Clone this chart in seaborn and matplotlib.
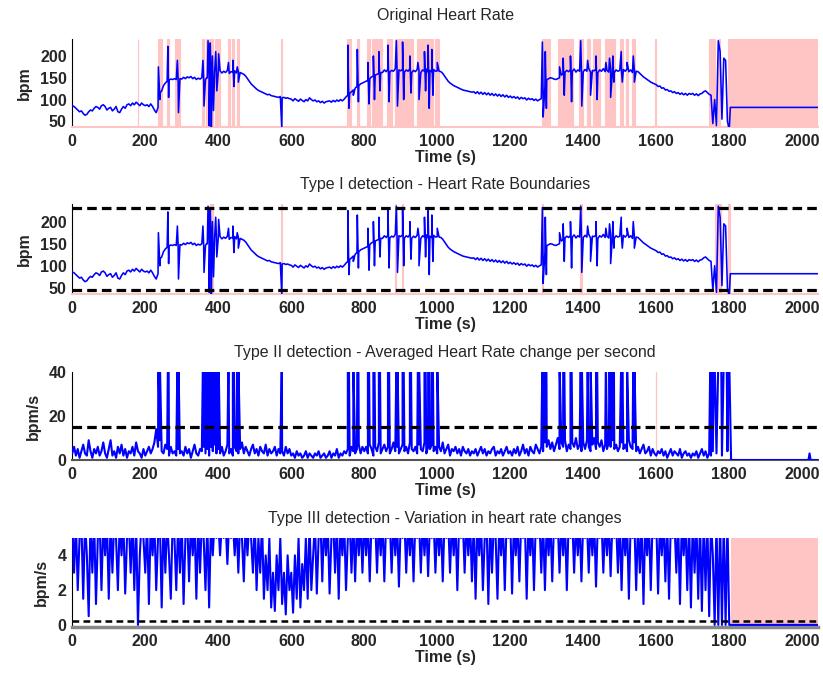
import numpy as np
import pandas as pd
import matplotlib
matplotlib.use("Agg")
import matplotlib.pyplot as plt
import seaborn as sns

sns.set_style("white")
plt.rcParams['font.family'] = ['Liberation Sans', 'DejaVu Sans']

# ---------------- data ----------------
STEP = 5  # seconds between samples
XMAX = 2044

# heart rate (bpm) sampled every 5 s from t=0 to t=1800
hr_base = [
    86,84,80,76,72,74,68,64,66,72,76,74,80,84,82,78,86,88,84,76,
    80,82,74,78,84,72,70,78,84,80,88,90,86,92,88,94,90,86,92,88,
    86,88,84,90,84,76,70,82,100,120,132,138,142,145,147,146,148,146,147,148,
    147,151,148,152,150,153,148,151,146,149,147,150,148,146,150,154,158,162,163,162,
    163,166,161,165,162,167,160,164,163,166,161,164,162,160,158,154,148,142,136,132,
    128,124,121,119,117,115,113,111,112,109,108,107,106,105,107,104,105,103,104,102,
    101,97,102,99,96,101,98,95,100,97,104,100,97,99,95,97,93,96,92,95,
    96,97,94,98,95,99,96,100,97,101,106,110,114,118,122,126,130,132,136,138,
    140,142,144,148,152,154,156,158,160,162,162,168,164,170,163,167,165,171,162,168,
    166,170,163,168,165,171,162,167,164,169,166,162,168,165,170,163,167,164,169,165,
    166,165,164,160,154,148,142,138,135,132,130,128,126,124,122,121,120,119,118,117,
    118,114,118,113,117,112,116,111,115,110,114,109,113,108,112,107,111,106,110,105,
    108,104,107,103,106,101,105,102,104,99,103,100,102,98,101,97,100,102,106,130,
    145,148,150,149,147,146,148,150,156,160,163,167,164,169,165,170,163,168,165,167,
    164,169,165,171,163,167,166,170,162,168,165,171,164,167,163,169,166,162,168,165,
    167,163,169,165,170,164,168,162,167,165,164,160,156,152,149,146,143,140,138,136,
    134,130,131,126,127,122,123,119,120,116,118,114,116,112,115,111,114,110,114,112,
    114,110,113,109,113,114,118,120,116,112,110,45,100,40,235,210,55,195,190,50,
    30,
]
# artefact spikes in the heart rate (time s, bpm)
hr_spike_t = [236,240,262,264,288,291,358,361,368,372,375,378,381,384,387,393,396,401,
              428,440,443,452,455,574,
              755,758,770,781,784,810,813,825,828,840,843,865,868,888,891,905,908,
              925,928,947,950,965,968,975,978,985,988,1000,
              1288,1290,1296,1299,1335,1345,1348,1365,1368,1393,1396,1412,1420,1435,
              1438,1462,1472,1475,1481,1484,1504,1507,1520,1537,1540]
hr_spike_v = [175,115,222,105,190,70,190,85,150,235,40,230,35,200,75,210,120,205,
              185,190,130,175,140,35,
              225,80,110,215,95,185,90,200,100,210,120,225,95,235,85,232,100,
              200,115,185,100,210,120,225,80,215,110,185,
              232,60,210,80,175,195,110,200,95,235,85,190,110,200,
              100,185,195,105,200,140,210,140,185,200,140]
# flat signal after sensor loss
hr_tail_t = [1803, XMAX]
hr_tail_v = [82, 82]

# detected artefact intervals (s)
orig_spans = [(179,181),(234,247),(259,266),(281,295),(356,362),(366,386),(391,405),
              (426,432),(438,444),(450,458),(573,576),(754,763),(779,786),(807,816),
              (820,834),(838,848),(861,875),(884,898),(902,916),(921,934),(944,957),
              (962,989),(994,1005),(1286,1309),(1331,1373),(1389,1400),(1409,1418),
              (1427,1446),(1459,1486),(1501,1508),(1517,1523),(1533,1542),(1597,1599),
              (1745,1761),(1770,1776),(1797,XMAX)]
type1_spans = [(378,386),(573,576),(885,888),(903,906),(1287,1290),(1392,1397),
               (1762,1778),(1797,1802)]
hr_bounds = [45, 230]

# averaged heart-rate change per second (bpm/s), every 5 s
dhr_base = [
    3,6,2,5,1,4,7,3,2,9,4,1,5,3,6,2,4,8,3,1,
    5,9,2,4,1,6,3,7,2,5,1,4,3,6,2,8,4,3,1,5,
    2,4,6,3,5,8,14,6,9,4,3,7,5,2,6,3,4,2,5,3,
    4,2,6,3,5,1,4,7,3,2,5,4,6,3,5,2,6,4,7,3,
    5,3,6,2,4,7,3,5,2,6,4,3,5,8,3,6,4,2,5,7,
    3,5,2,6,4,3,7,2,5,3,4,6,2,5,3,4,2,6,3,5,
    2,3,1,4,2,3,1,2,4,1,3,2,1,3,2,4,1,2,3,1,
    2,4,1,3,2,5,1,3,2,4,3,5,2,6,4,3,5,7,3,6,
    4,6,3,7,5,2,6,4,8,3,5,7,4,6,3,5,8,4,6,3,
    5,7,4,6,3,8,5,4,6,3,7,5,4,8,3,6,5,7,4,6,
    3,6,4,8,3,5,7,2,5,4,6,3,5,2,6,4,3,5,2,4,
    3,5,2,4,6,3,5,2,4,3,5,6,2,4,3,5,2,4,6,3,
    4,2,5,3,6,2,4,7,3,5,2,6,4,3,7,5,3,6,4,8,
    6,9,5,8,4,7,10,5,8,6,9,4,7,5,8,6,10,5,7,4,
    8,5,9,6,4,7,10,5,8,6,9,4,7,5,8,6,9,5,7,4,
    6,8,5,7,4,9,6,5,8,4,6,3,5,7,3,4,6,2,5,3,
    2,4,3,5,2,4,1,3,5,2,4,3,2,5,1,3,4,2,3,1,
    3,2,4,1,3,5,2,4,1,3,2,4,45,3,45,45,2,45,45,4,
    45,
]
dhr_spike_t = hr_spike_t + [1748, 1752, 1758, 1772, 1778, 1787, 1793, 1798]
DHR_SPIKE = 45  # clipped above the axis
dhr_tail_t = [1805, 2017, 2020, 2023, XMAX]
dhr_tail_v = [0, 0, 3, 0, 0]
dhr_threshold = 15

# variation in heart-rate changes (bpm/s), every 5 s (values above 5 are clipped)
var_base = [
    6,3,6,2,5,6,1.5,6,4,0.5,6,3,6,1.2,5,6,2,6,4,6,
    1.5,6,3,6,5,2,6,4,6,1.8,5,6,3,6,2,6,0,4,6,5,
    3,6,1.2,6,4,6,2,5,6,1,6,3,6,4,1.5,6,5,2,6,3,
    6,1.2,5,6,2.5,6,4,6,1.5,6,3,6,5,2,6,1,6,4,6,5,
    6,4,6,5,6,3.5,6,5,6,4,6,3,6,5,2.5,6,4,6,5,3,
    6,2,5,3,6,1.5,4,2,5,1,3,0.8,4,2,5,1.2,3,0.6,4,2,
    3,0.7,4,1.5,5,1,3.5,2,5,1.5,6,2,4,6,1.8,5,6,2.5,6,4,
    6,1.8,5,6,3,6,1.5,6,4,6,2,5,6,3,6,2.5,6,4,6,3,
    6,4,6,2.5,6,5,6,3,6,4,6,2.5,6,5,6,3,6,4,6,2.2,
    6,5,6,3,6,4,6,2.5,6,5,6,3,6,4,6,2.8,6,5,6,3,
    6,4,6,2.5,6,5,6,3,6,4,6,2,6,5,6,3,6,4,6,2.5,
    6,1.5,6,4,6,2,5,6,1.2,6,3,6,5,1.5,6,4,6,2,6,5,
    6,1.8,6,4,6,2.5,6,5,6,1.5,6,4,6,2,6,5,6,3,6,2,
    6,4,6,2.5,6,5,6,3,6,4,6,2,6,5,6,3,6,4,6,2.5,
    6,5,6,3,6,4,6,2.2,6,5,6,3,6,4,6,2.8,6,5,6,3,
    6,2,6,4,6,1.5,6,5,6,2,6,3,6,1.2,6,4,6,2,6,5,
    6,1.8,6,4,6,2.5,6,1.5,6,5,6,3,6,1.2,6,4,6,2,6,1,
    6,3,6,1.5,6,0.8,6,2,6,0.5,6,4,0,6,0,6,0,6,0,6,
    0,
]
var_tail_t = [1805, XMAX]
var_tail_v = [0, 0]
var_threshold = 0.2
type3_spans = [(1805, XMAX)]

xticks = list(range(0, 2001, 200))

# ---------------- build series ----------------
def series(base, extra_t, extra_v, tail_t, tail_v):
    t = np.concatenate([np.arange(len(base)) * STEP, extra_t, tail_t]).astype(float)
    v = np.concatenate([base, extra_v, tail_v]).astype(float)
    o = np.argsort(t, kind="stable")
    return pd.DataFrame({"t": t[o], "v": v[o]})

hr_df = series(hr_base, hr_spike_t, hr_spike_v, hr_tail_t, hr_tail_v)
dhr_df = series(dhr_base, dhr_spike_t, [DHR_SPIKE] * len(dhr_spike_t), dhr_tail_t, dhr_tail_v)
var_df = series(var_base, [], [], var_tail_t, var_tail_v)

# ---------------- figure ----------------
fig = plt.figure(figsize=(8.23, 6.77), dpi=100)
L, W = 0.0878, 0.9065
boxes = [(0.8124, 0.130), (0.5657, 0.133), (0.3205, 0.130), (0.0739, 0.1315)]
axes = [fig.add_axes([L, b, W, h]) for b, h in boxes]

PINK = "#ffc4c4"
BLUE = "#0000ff"
tick_font = dict(fontsize=11.5, fontweight="bold")

def style(ax, title, ylabel, yticks, ylim, bottom_color, title_pad=11):
    ax.set_xlim(0, XMAX)
    ax.set_ylim(*ylim)
    ax.set_xticks(xticks)
    ax.set_yticks(yticks)
    ax.set_xticklabels([str(x) for x in xticks], **tick_font)
    ax.set_yticklabels([str(y) for y in yticks], **tick_font)
    ax.tick_params(direction="in", length=3, width=0.8)
    ax.tick_params(axis="x", pad=5)
    ax.tick_params(axis="y", pad=4)
    ax.set_title(title, fontsize=11.5, pad=title_pad)
    ax.set_xlabel("Time (s)", fontsize=11.5, fontweight="bold", labelpad=1)
    ax.set_ylabel(ylabel, fontsize=11.5, fontweight="bold", labelpad=6)
    for s in ("top", "right"):
        ax.spines[s].set_visible(False)
    ax.spines["left"].set_color("black")
    ax.spines["left"].set_linewidth(0.8)
    ax.spines["bottom"].set_color(bottom_color)
    ax.spines["bottom"].set_linewidth(1.5)

def spans(ax, sp):
    for a, b in sp:
        ax.axvspan(a, b, color=PINK, lw=0.8, zorder=0)

def line(ax, df, lw):
    sns.lineplot(data=df, x="t", y="v", ax=ax, color=BLUE, linewidth=lw,
                 estimator=None, sort=False, zorder=3)

dash_kw = dict(color="black", lw=2.3, linestyle=(0, (3.0, 1.6)), zorder=4)

# Panel 1
ax = axes[0]
spans(ax, orig_spans)
line(ax, hr_df, 1.15)
style(ax, "Original Heart Rate", "bpm", [50, 100, 150, 200], (37, 239), PINK, title_pad=14)

# Panel 2
ax = axes[1]
spans(ax, type1_spans)
line(ax, hr_df, 1.15)
for yb in hr_bounds:
    ax.axhline(yb, **dash_kw)
style(ax, "Type I detection - Heart Rate Boundaries", "bpm", [50, 100, 150, 200], (36, 240), PINK)

# Panel 3
ax = axes[2]
ax.axvline(1598, color=PINK, lw=0.9, zorder=2)
line(ax, dhr_df, 1.5)
ax.axhline(dhr_threshold, **dash_kw)
style(ax, "Type II detection - Averaged Heart Rate change per second", "bpm/s", [0, 20, 40], (0, 40), "#555555")

# Panel 4
ax = axes[3]
spans(ax, type3_spans)
line(ax, var_df, 1.5)
ax.axhline(var_threshold, color="black", lw=1.8, linestyle=(0, (2.7, 1.7)), zorder=4)
style(ax, "Type III detection - Variation in heart rate changes", "bpm/s", [0, 2, 4], (-0.12, 5.0), "#888888")
ax.spines["bottom"].set_linewidth(2.5)

fig.savefig("out.png", dpi=100)
